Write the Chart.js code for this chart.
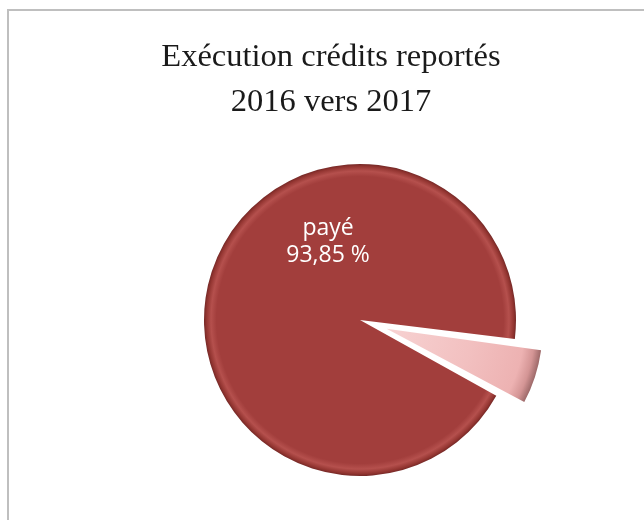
<!DOCTYPE html>
<html>
<head>
<meta charset="utf-8">
<script src="https://cdn.jsdelivr.net/npm/chart.js@4/dist/chart.umd.min.js"></script>
<style>
  html, body { margin: 0; padding: 0; background: #ffffff; }
  #wrap { position: relative; width: 644px; height: 520px; overflow: hidden; }
  #frame { position: absolute; left: 7px; top: 9px; width: 700px; height: 600px;
           border-left: 2px solid #bfbfbf; border-top: 2px solid #bfbfbf; }
  canvas { position: absolute; left: 0; top: 0; }
</style>
</head>
<body>
<div id="wrap">
  <div id="frame"></div>
  <canvas id="c" width="644" height="520"></canvas>
</div>
<script>
const categories = ['payé', 'non payé'];
const values = [93.85, 6.15];
const titleLines = ['Exécution crédits reportés', '2016 vers 2017'];
const sliceColors = ['#a13d3b', '#f0b9b9'];

const PIE_RADIUS = 156;
const EXPLODE = 112;          // Chart.js arc offset option
const START_ROTATION = 119.1;  // degrees

function pieCenter(chart) {
  const a = chart.chartArea;
  return { x: (a.left + a.right) / 2, y: (a.top + a.bottom) / 2 };
}

function sliceFill(context) {
  const chart = context.chart;
  if (!chart.chartArea) return sliceColors[context.dataIndex];
  const c = pieCenter(chart);
  const ctx = chart.ctx;
  const g = ctx.createRadialGradient(c.x, c.y, 0, c.x, c.y, PIE_RADIUS);
  if (context.dataIndex === 0) {
    g.addColorStop(0, '#a23e3c');
    g.addColorStop(0.92, '#a23e3c');
    g.addColorStop(0.955, '#b5504d');
    g.addColorStop(0.985, '#933531');
    g.addColorStop(1, '#742826');
  } else {
    g.addColorStop(0, '#f7d2d2');
    g.addColorStop(0.55, '#f2c0c0');
    g.addColorStop(0.88, '#edb2b2');
    g.addColorStop(0.95, '#d49595');
    g.addColorStop(1, '#9c6868');
  }
  return g;
}

const areaShift = {
  id: 'areaShift',
  afterLayout(chart) {
    const a = chart.chartArea;
    a.left += 58;
    a.width = a.right - a.left;
  }
};

const explodeFix = {
  id: 'explodeFix',
  beforeDatasetsDraw(chart) {
    const meta = chart.getDatasetMeta(0);
    meta.data.forEach((arc, i) => {
      const off = (chart.data.datasets[0].offset[i] || 0) / 4;
      const circ = arc.circumference;
      const fix = 1 - Math.sin(Math.min(Math.PI, circ || 0));
      arc.outerRadius = PIE_RADIUS - off * fix;
    });
  }
};

const sliceLabels = {
  id: 'sliceLabels',
  afterDatasetsDraw(chart) {
    const meta = chart.getDatasetMeta(0);
    const arc = meta.data[0];
    const ctx = chart.ctx;
    const r = PIE_RADIUS;
    const x = arc.x - 0.205 * r;
    ctx.save();
    ctx.fillStyle = '#ffffff';
    ctx.font = '23px "Open Sans", sans-serif';
    ctx.textAlign = 'center';
    ctx.textBaseline = 'alphabetic';
    ctx.fillText(categories[0], x, arc.y - 0.545 * r);
    ctx.fillText(values[0].toFixed(2).replace('.', ',') + ' %', x, arc.y - 0.372 * r);
    ctx.restore();
  }
};

new Chart(document.getElementById('c'), {
  type: 'pie',
  data: {
    labels: categories,
    datasets: [{
      data: values,
      backgroundColor: sliceFill,
      borderWidth: 0,
      offset: [0, EXPLODE]
    }]
  },
  options: {
    responsive: false,
    animation: false,
    events: [],
    rotation: START_ROTATION,
    radius: PIE_RADIUS,
    layout: { padding: { left: 18, right: 0, top: 0, bottom: 5 } },
    plugins: {
      legend: { display: false },
      tooltip: { enabled: false },
      title: {
        display: true,
        text: titleLines,
        color: '#1a1a1a',
        font: { family: '"Liberation Serif", serif', size: 32.5, weight: 'normal', lineHeight: 45 / 32.5 },
        padding: { top: 35, bottom: 0 }
      }
    }
  },
  plugins: [areaShift, explodeFix, sliceLabels]
});
</script>
</body>
</html>
